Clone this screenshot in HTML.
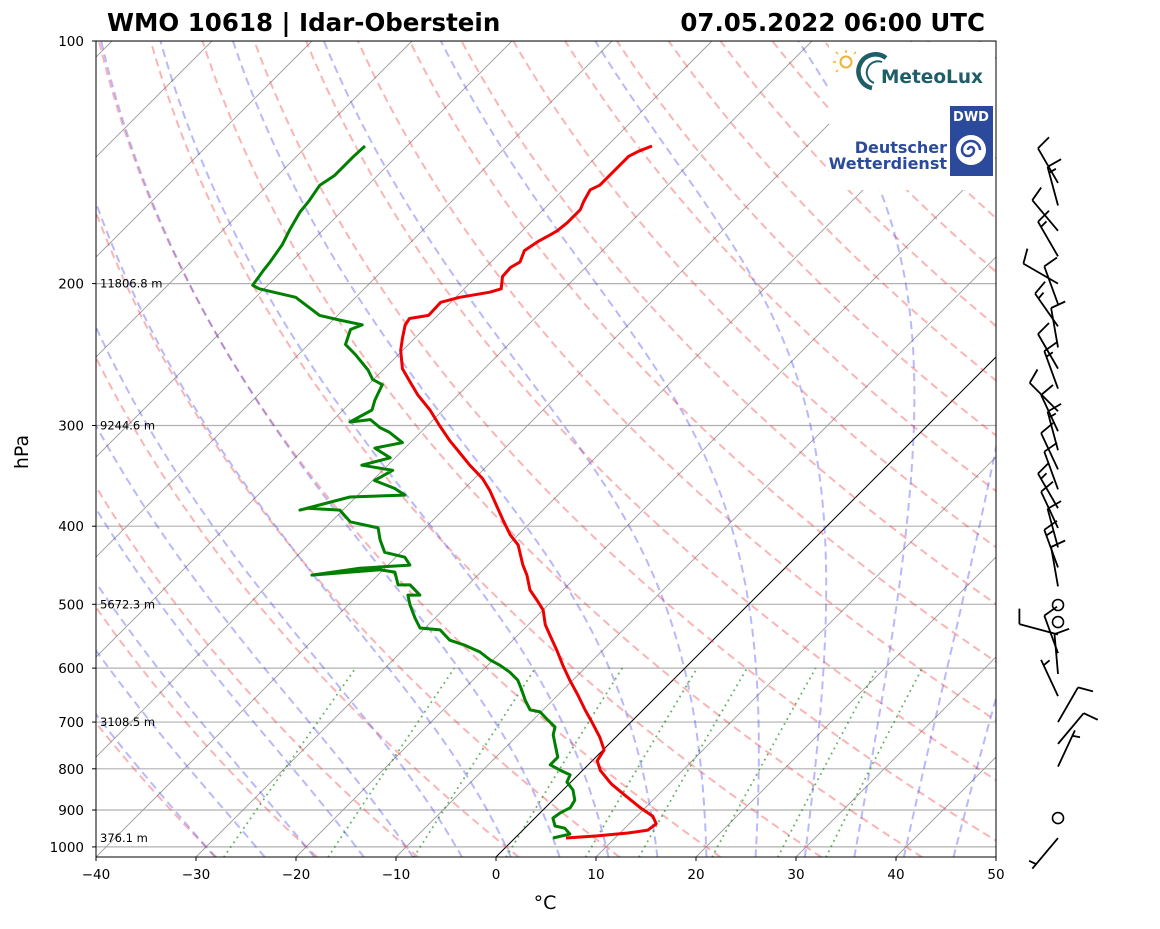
<!DOCTYPE html>
<html><head><meta charset="utf-8">
<style>
html,body{margin:0;padding:0;background:#fff;}
body{width:1160px;height:925px;overflow:hidden;font-family:"DejaVu Sans","Liberation Sans",sans-serif;}
svg text{font-family:"DejaVu Sans","Liberation Sans",sans-serif;}
</style></head>
<body>
<svg id="chart" width="1160" height="925" viewBox="0 0 1160 925" xmlns="http://www.w3.org/2000/svg">
<defs><clipPath id="plotclip"><rect x="96" y="41" width="900" height="816"/></clipPath></defs>
<g id="bg" clip-path="url(#plotclip)"></g>
<g id="series" clip-path="url(#plotclip)"></g>
<g id="axes"></g>
<g id="barbs"></g>
<text x="107" y="31" font-size="24.5" font-weight="bold">WMO 10618 | Idar-Oberstein</text>
<text x="985" y="31" font-size="24.5" font-weight="bold" text-anchor="end">07.05.2022 06:00 UTC</text>
<text x="545" y="909" font-size="19" text-anchor="middle">°C</text>
<text x="28" y="452" font-size="19" text-anchor="middle" transform="rotate(-90 28 452)">hPa</text>
<g>
  <rect x="829" y="42" width="166" height="148" fill="#fff"/>
  <circle cx="846" cy="62" r="5.5" fill="none" stroke="#f2b134" stroke-width="2"/>
  <g stroke="#f2b134" stroke-width="1.5"><line x1="846" y1="50" x2="846" y2="53"/><line x1="836" y1="62" x2="833" y2="62"/><line x1="838" y1="54" x2="836" y2="52"/><line x1="838" y1="70" x2="836" y2="72"/><line x1="854" y1="54" x2="856" y2="52"/></g>
  <path d="M886 58 A17 17 0 1 0 872 88" fill="none" stroke="#1d5e67" stroke-width="4.5"/>
  <path d="M882 62 A11 11 0 1 0 874 83" fill="none" stroke="#1d5e67" stroke-width="2"/>
  <text x="881" y="83" font-size="18.5" font-weight="bold" fill="#1d5e67">MeteoLux</text>
</g>
<g>
  <text x="947" y="153" font-size="16" font-weight="bold" fill="#2b4a9c" text-anchor="end">Deutscher</text>
  <text x="947" y="169" font-size="16" font-weight="bold" fill="#2b4a9c" text-anchor="end">Wetterdienst</text>
  <rect x="950" y="106" width="43" height="70" fill="#2b4a9c"/>
  <text x="971" y="121" font-size="13" font-weight="bold" fill="#fff" text-anchor="middle">DWD</text>
  <circle cx="971" cy="150" r="15" fill="#fff"/>
  <path d="M971 150 m-3 0 a3 3 0 1 1 6 0 a6 6 0 1 1 -12 0 a9 9 0 1 1 18 0" fill="none" stroke="#2b4a9c" stroke-width="2.5"/>
</g>
</svg>
<script>
// ---- data ----
const tempP = [975,969,961,953,936,916,894,865,835,804,782,758,731,700,676,648,621,595,570,546,530,508,494,480,460,447,422,410,393,377,361,349,336,324,313,300,287,275,263,255,242,234,225,221,219,211,208,205,203,196,191,188,182,177,174,172,168,162,158,153,151,147,142,139,137,135];
const tempT = [5.1,8.0,10.8,12.5,12.7,11.6,9.5,6.9,4.2,1.8,0.5,0.1,-1.6,-3.9,-5.8,-8.0,-10.3,-12.5,-14.6,-16.8,-18.3,-20.0,-21.6,-23.3,-25.1,-26.5,-29.0,-30.8,-33.0,-35.1,-37.3,-39.2,-41.8,-44.1,-46.3,-48.8,-51.3,-54.0,-56.5,-58.2,-60.2,-61.2,-62.3,-62.5,-60.9,-61.0,-59.6,-57.1,-56.3,-57.4,-57.5,-57.1,-57.8,-57.3,-56.8,-56.5,-56.3,-56.3,-56.8,-57.3,-56.8,-56.8,-56.8,-56.8,-56.3,-55.5];
const dewP = [975,964,948,942,921,908,894,875,850,831,814,803,791,774,747,726,710,696,680,676,657,639,621,607,595,586,573,562,554,538,535,520,501,487,487,473,473,456,453,460,451,447,437,431,416,402,395,382,380,382,368,366,359,351,341,336,329,320,315,306,302,295,297,287,279,267,263,256,245,238,228,225,222,219,208,203,201,193,188,179,172,163,158,151,147,142,139,135];
const dewT = [3.8,5.1,4.0,2.8,1.8,2.0,2.5,2.2,1.0,-0.4,-0.8,-2.3,-3.8,-3.8,-5.3,-6.5,-7.1,-8.5,-10.1,-11.3,-12.8,-14.1,-15.5,-17.1,-18.8,-20.3,-22.1,-24.3,-26.3,-28.3,-30.5,-32.0,-33.8,-35.0,-33.8,-35.8,-37.0,-38.6,-40.3,-46.6,-42.5,-37.8,-39.1,-41.6,-43.3,-44.7,-48.1,-50.3,-53.7,-54.3,-50.6,-45.3,-47.0,-49.8,-49.0,-52.6,-50.5,-53.0,-50.8,-53.1,-54.5,-56.3,-58.1,-57.1,-57.8,-58.6,-60.1,-61.5,-64.3,-66.3,-67.3,-66.6,-69.3,-71.8,-76.0,-80.5,-81.5,-81.9,-82.1,-82.6,-83.3,-84.1,-84.3,-84.8,-84.3,-84.3,-84.3,-84.2];
const pTicks = [100,200,300,400,500,600,700,800,900,1000];
const tTicks = [-40,-30,-20,-10,0,10,20,30,40,50];
const heightP = [200,300,500,700,975];
const heightLabels = ["11806.8 m","9244.6 m","5672.3 m","3108.5 m","376.1 m"];
const windP = [150,160,172,185,200,212,226,240,255,270,288,305,322,340,360,380,402,425,450,475,501,526,545,575,610,650,700,745,795,921,975];
const windDir = [330,345,320,330,300,340,325,350,330,340,315,335,345,335,340,330,335,345,340,350,0,0,285,340,355,335,30,40,25,0,220];
const windSpd = [10,15,10,15,10,10,15,10,10,15,10,10,15,10,10,15,10,10,15,10,0,0,10,10,10,5,10,10,5,0,5];

// ---- scales ----
const X0=96,X1=996,Y0=41,YB=857,PX=350;
const yP = p => Y0 + PX*Math.log(p/100);
const xT = (t,y) => X0 + (t+40)*10 + (YB - y);
const NS="http://www.w3.org/2000/svg";
function mk(tag, attrs, parent){const e=document.createElementNS(NS,tag);for(const k in attrs)e.setAttribute(k,attrs[k]);parent.appendChild(e);return e;}
const bg=document.getElementById('bg'), ser=document.getElementById('series'), ax=document.getElementById('axes'), bb=document.getElementById('barbs');
function polyFrom(ps, ts){return ps.map((p,i)=>{const y=yP(p);return xT(ts[i],y).toFixed(1)+','+y.toFixed(1);}).join(' ');}

pTicks.forEach(p=>{const y=yP(p);
  const l=mk('line',{x1:X0,x2:X1,y1:y,y2:y,stroke:'#b0b0b0','stroke-width':1.2},bg);
  
  
});
for(let t=-160;t<=50;t+=10){
  const l=mk('line',{x1:xT(t,YB),y1:YB,x2:xT(t,Y0),y2:Y0,stroke:t===0?'#000':'#999','stroke-width':t===0?1:0.9},bg);
  
  
}
const pLev=[];for(let p=1030;p>=100;p-=5)pLev.push(p);
for(let th=-30;th<=200;th+=10){
  const K=th+273.15;
  const pts=pLev.map(p=>{const y=yP(p);return xT(K*Math.pow(p/1000,0.2857)-273.15,y).toFixed(1)+','+y.toFixed(1);}).join(' ');
  const l=mk('polyline',{points:pts,fill:'none',stroke:'rgba(240,60,60,0.38)','stroke-width':2,'stroke-dasharray':'8,5'},bg);
  
  
}
function es(tc){return 6.112*Math.exp(17.67*tc/(tc+243.5));}
function dTdp(T,p){const tc=T-273.15;const e=es(tc);const rs=0.622*e/(p-e);const Rd=287.04,Lv=2.501e6,Cp=1005.7;
  return (1/p)*(Rd*T+Lv*rs)/(Cp+Lv*Lv*rs*0.622/(Rd*T*T));}
for(let t0=-30;t0<=45;t0+=5){
  const pts=[];let T=t0+273.15;
  for(let p=1000;p<1030;p+=1){T+=dTdp(T,p)*1;}
  let p=1030;
  while(p>=100){const y=yP(p);pts.push(xT(T-273.15,y).toFixed(1)+','+y.toFixed(1));T-=dTdp(T,p)*2;p-=2;}
  const l=mk('polyline',{points:pts.join(' '),fill:'none',stroke:'rgba(60,60,240,0.36)','stroke-width':2,'stroke-dasharray':'8,5'},bg);
  
  
}
[0.0004,0.001,0.002,0.004,0.007,0.01,0.016,0.024,0.032].forEach(w=>{
  const pts=[];for(let p=1030;p>=600;p-=10){const e=p*w/(0.622+w);const L=Math.log(e/6.112);const td=243.5*L/(17.67-L);const y=yP(p);pts.push(xT(td,y).toFixed(1)+','+y.toFixed(1));}
  const l=mk('polyline',{points:pts.join(' '),fill:'none',stroke:'rgba(0,128,0,0.6)','stroke-width':1.8,'stroke-dasharray':'1.8,4'},bg);
  
  
});
const tl=mk('polyline',{points:polyFrom(tempP,tempT),fill:'none',stroke:'#e00','stroke-width':3,'stroke-linejoin':'round'},ser);


const dl=mk('polyline',{points:polyFrom(dewP,dewT),fill:'none',stroke:'#008000','stroke-width':3,'stroke-linejoin':'round'},ser);


heightP.forEach((p,i)=>{const t=mk('text',{x:100,y:yP(p)+4,'font-size':11.5},ser);t.textContent=heightLabels[i];
  
  });
const fr=mk('rect',{x:X0,y:Y0,width:X1-X0,height:YB-Y0,fill:'none',stroke:'#000','stroke-width':1},ax);


pTicks.forEach(p=>{const y=yP(p);mk('line',{x1:X0-4,x2:X0,y1:y,y2:y,stroke:'#000'},ax);
  const t=mk('text',{x:X0-12,y:y+5,'font-size':13.5,'text-anchor':'end'},ax);t.textContent=p;
  
  });
tTicks.forEach(v=>{const x=X0+(v+40)*10;mk('line',{x1:x,x2:x,y1:YB,y2:YB+4,stroke:'#000'},ax);
  const t=mk('text',{x:x,y:YB+22,'font-size':13.5,'text-anchor':'middle'},ax);t.textContent=(v<0?'\u2212'+(-v):v);
  
  });
const BX=1058,L=40;
windP.forEach((p,i)=>{const by=yP(p);const s=windSpd[i];
  if(s===0){const c=mk('circle',{cx:BX,cy:by,r:5.5,fill:'none',stroke:'#000','stroke-width':1.6},bb);
    
    return;}
  const a=windDir[i]*Math.PI/180;const ux=Math.sin(a),uy=-Math.cos(a);
  const tx=BX+L*ux,ty=by+L*uy;
  let d=`M${BX},${by}L${tx.toFixed(1)},${ty.toFixed(1)}`;
  const px=-uy,py=ux;
  let n=s,k=0;
  while(n>=10){const sx=tx-ux*k*6,sy=ty-uy*k*6;d+=`M${sx.toFixed(1)},${sy.toFixed(1)}l${(px*15+ux*4).toFixed(1)},${(py*15+uy*4).toFixed(1)}`;n-=10;k++;}
  if(n>=5){if(k===0)k=1;const sx=tx-ux*k*6,sy=ty-uy*k*6;d+=`M${sx.toFixed(1)},${sy.toFixed(1)}l${(px*7.5+ux*2).toFixed(1)},${(py*7.5+uy*2).toFixed(1)}`;}
  const b=mk('path',{d:d,fill:'none',stroke:'#000','stroke-width':1.8},bb);
  
  
});
</script>
</body></html>
